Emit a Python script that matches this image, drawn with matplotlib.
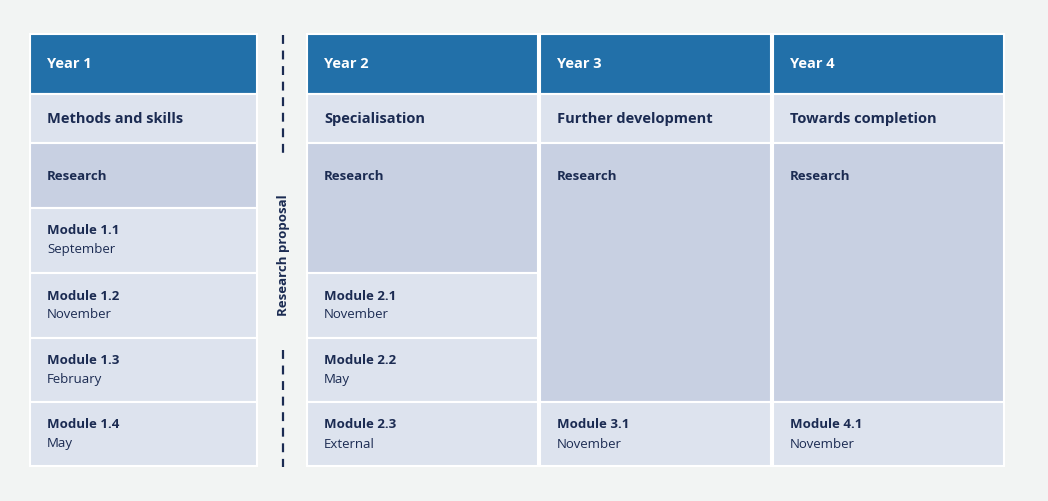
import matplotlib
matplotlib.use("Agg")
import matplotlib.pyplot as plt
from matplotlib.patches import Rectangle

years = ["Year 1", "Year 2", "Year 3", "Year 4"]
themes = ["Methods and skills", "Specialisation", "Further development", "Towards completion"]
# research cell span per year: (first row, last row) in body row index
research_span = [(0, 0), (0, 1), (0, 3), (0, 3)]
# modules per year: (row, title, month)
modules = [
    [(1, "Module 1.1", "September"), (2, "Module 1.2", "November"),
     (3, "Module 1.3", "February"), (4, "Module 1.4", "May")],
    [(2, "Module 2.1", "November"), (3, "Module 2.2", "May"), (4, "Module 2.3", "External")],
    [(4, "Module 3.1", "November")],
    [(4, "Module 4.1", "November")],
]

# layout in pixels
W, H = 1048, 501
col_x = [(30, 257), (307, 538), (540, 771), (773, 1004)]
header_y = (34, 94)
theme_y = (94, 143)
body_edges = [143, 208, 273, 338, 402, 466]

BG = "#f2f4f3"
BLUE = "#2270a9"
LIGHT = "#dde3ee"
MID = "#c8d0e2"
NAVY = "#1b2b52"
FONT = "Open Sans"

fig = plt.figure(figsize=(W / 100, H / 100), dpi=100, facecolor=BG)
ax = fig.add_axes([0, 0, 1, 1])
ax.set_xlim(0, W)
ax.set_ylim(H, 0)
ax.axis("off")


def cell(x0, x1, y0, y1, color):
    ax.add_patch(Rectangle((x0, y0), x1 - x0, y1 - y0, facecolor=color,
                           edgecolor="white", linewidth=1.5))


for i, (x0, x1) in enumerate(col_x):
    cell(x0, x1, *header_y, BLUE)
    ax.text(x0 + 17, 64, years[i], color="white", fontsize=10.5,
            fontweight="bold", family=FONT, va="center")
    cell(x0, x1, *theme_y, LIGHT)
    ax.text(x0 + 17, 119, themes[i], color=NAVY, fontsize=10.5,
            fontweight="bold", family=FONT, va="center")

    r0, r1 = research_span[i]
    ry0, ry1 = body_edges[r0], body_edges[r1 + 1]
    cell(x0, x1, ry0, ry1, MID)
    ax.text(x0 + 17, ry0 + 34, "Research", color=NAVY, fontsize=9.5,
            fontweight="bold", family=FONT, va="center")

    for row, title, month in modules[i]:
        y0, y1 = body_edges[row], body_edges[row + 1]
        cell(x0, x1, y0, y1, LIGHT)
        ax.text(x0 + 17, y0 + 23, title, color=NAVY, fontsize=9.5,
                fontweight="bold", family=FONT, va="center")
        ax.text(x0 + 17, y0 + 42, month, color=NAVY, fontsize=9.5,
                family=FONT, va="center")

# dashed divider with vertical label
ax.plot([283, 283], [35, 157], color=NAVY, lw=1.6, ls=(0, (4, 3)))
ax.plot([283, 283], [350, 467], color=NAVY, lw=1.6, ls=(0, (4, 3)))
ax.text(283, 255, "Research proposal", color=NAVY, fontsize=9.5,
        fontweight="bold", family=FONT, rotation=90, ha="center", va="center")

fig.savefig("out.png", dpi=100, facecolor=BG)
